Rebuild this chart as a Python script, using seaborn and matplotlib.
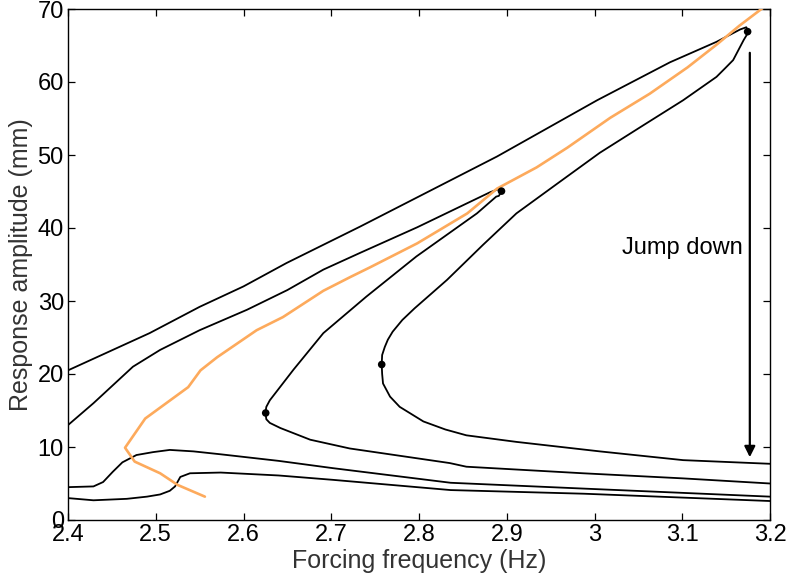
import matplotlib
matplotlib.use("Agg")
import matplotlib.pyplot as plt
import seaborn as sns
import pandas as pd

# ---------------- data ----------------
curve_a_x = [2.400, 2.493, 2.550, 2.600, 2.649, 2.733, 2.889, 3.003, 3.086, 3.139, 3.166, 3.173,
             3.1755, 3.170, 3.158, 3.149, 3.139, 3.101, 3.056, 3.006, 2.959, 2.911, 2.873, 2.832,
             2.814, 2.795, 2.781, 2.770, 2.7645, 2.761, 2.758, 2.7575, 2.758, 2.759, 2.767, 2.778,
             2.805, 2.830, 2.854, 2.911, 3.006, 3.101, 3.200]
curve_a_y = [20.5, 25.6, 29.2, 32.0, 35.2, 40.2, 49.8, 57.5, 62.7, 65.5, 67.2, 67.5,
             66.85, 65.75, 63.0, 61.9, 60.7, 57.5, 54.1, 50.3, 46.2, 42.0, 37.7, 32.9,
             31.0, 29.0, 27.4, 25.8, 24.7, 23.7, 22.6, 21.3, 20.0, 18.7, 16.9, 15.5,
             13.5, 12.4, 11.6, 10.7, 9.4, 8.2, 7.7]

curve_b_x = [2.400, 2.429, 2.474, 2.505, 2.550, 2.604, 2.650, 2.691, 2.733, 2.798, 2.855, 2.881,
             2.890, 2.894, 2.891, 2.888, 2.866, 2.797, 2.740, 2.691, 2.657, 2.630, 2.626, 2.625,
             2.626, 2.630, 2.642, 2.659, 2.676, 2.721, 2.778, 2.835, 2.854, 2.987, 3.101, 3.200]
curve_b_y = [13.0, 16.0, 21.0, 23.3, 26.0, 28.8, 31.5, 34.3, 36.6, 40.1, 43.4, 44.9,
             45.3, 45.0, 44.4, 44.3, 42.0, 36.1, 30.6, 25.6, 20.6, 16.4, 15.5, 14.7,
             13.8, 13.3, 12.6, 11.8, 11.0, 9.8, 8.8, 7.8, 7.3, 6.4, 5.7, 5.0]

curve_c_x = [2.400, 2.429, 2.440, 2.451, 2.462, 2.478, 2.497, 2.516, 2.543, 2.574, 2.640, 2.702,
             2.836, 2.988, 3.200]
curve_c_y = [4.5, 4.6, 5.2, 6.6, 7.9, 8.9, 9.3, 9.6, 9.4, 9.0, 8.1, 7.1, 5.1, 4.3, 3.2]

curve_d_x = [2.400, 2.429, 2.467, 2.490, 2.505, 2.516, 2.522, 2.528, 2.539, 2.574, 2.640, 2.702,
             2.836, 2.988, 3.200]
curve_d_y = [3.0, 2.7, 2.9, 3.2, 3.5, 4.0, 4.6, 5.9, 6.4, 6.5, 6.1, 5.5, 4.1, 3.6, 2.6]

backbone_x = [2.556, 2.525, 2.505, 2.476, 2.465, 2.488, 2.537, 2.551, 2.570, 2.615, 2.645, 2.691,
              2.722, 2.744, 2.798, 2.855, 2.889, 2.934, 2.969, 3.018, 3.063, 3.106, 3.140, 3.165,
              3.199]
backbone_y = [3.2, 4.8, 6.4, 8.0, 9.9, 13.9, 18.2, 20.5, 22.3, 26.0, 27.8, 31.4,
              33.3, 34.6, 37.9, 42.0, 45.4, 48.3, 51.0, 55.1, 58.4, 62.0, 65.2, 67.7,
              70.8]

fold_x = [3.1745, 2.7575, 2.894, 2.6253]
fold_y = [66.9, 21.3, 45.05, 14.66]

jump_x = 3.177
jump_top = 64.0
jump_bottom = 8.6
jump_label = "Jump down"

x_ticks = [2.4, 2.5, 2.6, 2.7, 2.8, 2.9, 3.0, 3.1, 3.2]
x_tick_labels = ["2.4", "2.5", "2.6", "2.7", "2.8", "2.9", "3", "3.1", "3.2"]
y_ticks = [0, 10, 20, 30, 40, 50, 60, 70]

# ---------------- style ----------------
sns.set_style("ticks")
plt.rcParams["font.family"] = ["Liberation Sans", "DejaVu Sans"]

fig = plt.figure(figsize=(7.9, 5.86), dpi=100)
ax = fig.add_axes([68 / 790, 1 - 520 / 586, (770 - 68) / 790, (520 - 9) / 586])

lw = 1.3
for cx, cy in [(curve_a_x, curve_a_y), (curve_b_x, curve_b_y),
               (curve_c_x, curve_c_y), (curve_d_x, curve_d_y)]:
    df = pd.DataFrame({"f": cx, "a": cy})
    sns.lineplot(data=df, x="f", y="a", sort=False, estimator=None, color="black",
                 lw=lw, ax=ax)
for line in ax.lines:
    line.set_solid_joinstyle("round")

dfb = pd.DataFrame({"f": backbone_x, "a": backbone_y})
sns.lineplot(data=dfb, x="f", y="a", sort=False, estimator=None, color="#FDAA5C",
             lw=1.9, ax=ax, zorder=3)

dff = pd.DataFrame({"f": fold_x, "a": fold_y})
sns.scatterplot(data=dff, x="f", y="a", color="black", s=30, edgecolor="none",
                ax=ax, zorder=5)

ax.annotate("", xy=(jump_x, jump_bottom), xytext=(jump_x, jump_top),
            arrowprops=dict(arrowstyle="-|>", color="black", lw=1.6,
                            mutation_scale=16, shrinkA=0, shrinkB=0))
ax.text(3.169, 37.3, jump_label, ha="right", va="center", fontsize=17, color="black")

ax.set_xlim(2.4, 3.2)
ax.set_ylim(0, 70)
ax.set_xticks(x_ticks)
ax.set_xticklabels(x_tick_labels)
ax.set_yticks(y_ticks)
ax.tick_params(direction="in", length=5, width=0.9, top=True, right=True,
               labelsize=17, colors="black", pad=3)
for s in ax.spines.values():
    s.set_linewidth(1.0)
    s.set_color("black")

ax.set_xlabel("Forcing frequency (Hz)", fontsize=18, color="#333333", labelpad=2)
ax.set_ylabel("Response amplitude (mm)", fontsize=18, color="#333333", labelpad=3)

fig.savefig("out.png", dpi=100)
